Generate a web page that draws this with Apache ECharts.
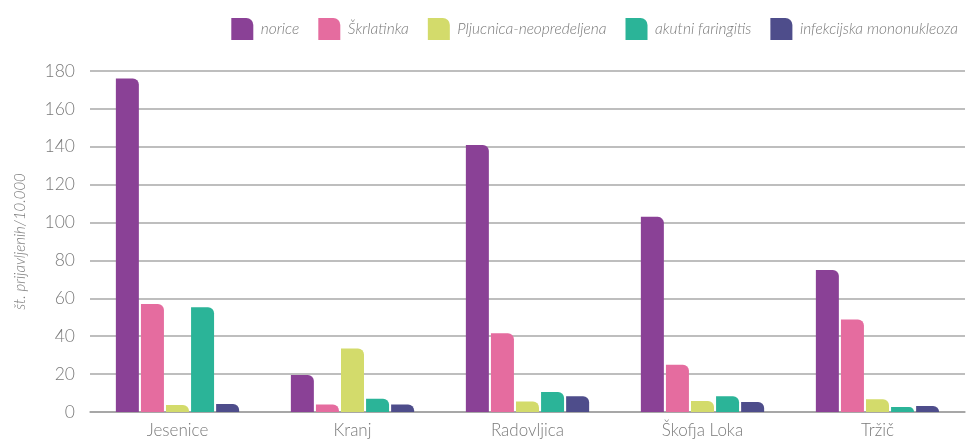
<!DOCTYPE html>
<html>
<head>
<meta charset="utf-8">
<script src="https://cdn.jsdelivr.net/npm/echarts@6/dist/echarts.min.js"></script>
<style>
  html, body { margin: 0; padding: 0; background: #fff; }
  #chart { width: 969px; height: 439px; }
</style>
</head>
<body>
<div id="chart"></div>
<script>
// Regions (categories)
const regions = ['Jesenice', 'Kranj', 'Radovljica', 'Škofja Loka', 'Tržič'];

// Reported cases per 10,000 inhabitants, one array per disease
const norice = [176, 19.5, 141, 103, 75];
const skrlatinka = [57, 4, 41.6, 25, 48.8];
const pljucnica = [3.7, 33.5, 5.6, 5.8, 6.7];
const faringitis = [55.3, 7, 10.5, 8.3, 2.6];
const mononukleoza = [4.2, 4, 8.3, 5.3, 3.2];

const seriesNames = ['norice', 'Škrlatinka', 'Pljucnica-neopredeljena', 'akutni faringitis', 'infekcijska mononukleoza'];
const seriesData = [norice, skrlatinka, pljucnica, faringitis, mononukleoza];
const colors = ['#8a4196', '#e56c9f', '#d3db6b', '#2bb498', '#4e4d8b'];

// Value axis ticks
const yMin = 0, yMax = 180, yStep = 20;

const fontFamily = 'Lato, "Open Sans", sans-serif';
const textColor = '#7a7a7a';
const legendIcon = 'path://M0,0 H15 A7,7 0 0 1 22,7 V22 H0 Z';

const chart = echarts.init(document.getElementById('chart'));
chart.setOption({
  animation: false,
  color: colors,
  legend: {
    right: 6,
    top: 13,
    itemWidth: 23,
    itemHeight: 22,
    itemGap: 19,
    icon: legendIcon,
    textStyle: { color: textColor, fontStyle: 'italic', fontSize: 15.5, fontFamily: fontFamily, fontWeight: 300, padding: [0, 0, 0, 2] },
    data: seriesNames
  },
  grid: { left: 90, right: 4, top: 71, bottom: 26 },
  xAxis: {
    type: 'category',
    data: regions,
    axisLine: { lineStyle: { color: '#a0a0a0', width: 1.5 } },
    axisTick: { show: false },
    axisLabel: { color: textColor, fontSize: 17, fontFamily: fontFamily, fontWeight: 300, margin: 10 }
  },
  yAxis: {
    type: 'value',
    min: yMin,
    max: yMax,
    interval: yStep,
    name: 'št. prijavljenih/10.000',
    nameLocation: 'middle',
    nameGap: 62,
    nameTextStyle: { color: textColor, fontStyle: 'italic', fontSize: 15, fontFamily: fontFamily, fontWeight: 300 },
    axisLine: { show: false },
    axisTick: { show: false },
    axisLabel: { color: textColor, fontSize: 17.5, fontFamily: fontFamily, fontWeight: 300, margin: 15 },
    splitLine: { lineStyle: { color: '#a8a8a8', width: 1.5 } }
  },
  series: seriesNames.map((name, i) => ({
    name: name,
    type: 'bar',
    data: seriesData[i],
    barWidth: 23,
    barGap: '9%',
    itemStyle: { color: colors[i], borderRadius: [0, 6, 0, 0] }
  }))
});
</script>
</body>
</html>
